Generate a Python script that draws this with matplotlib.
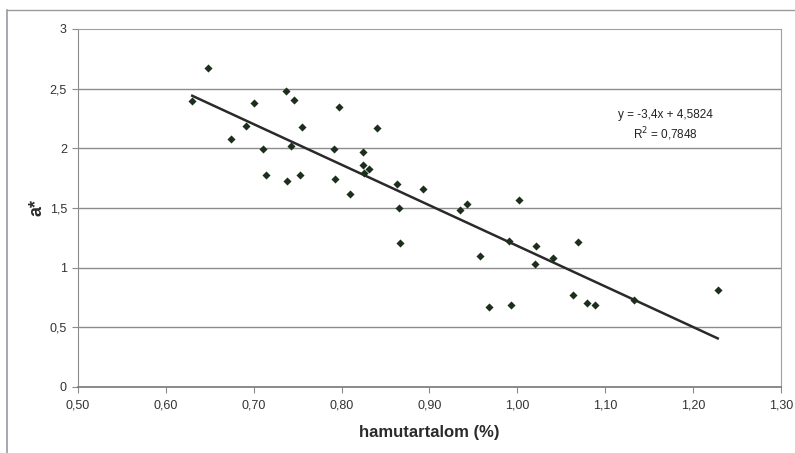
"""
a* vs hamutartalom (%) scatter with linear trendline, Excel-style.
"""

import matplotlib.pyplot as plt
import numpy as np
from matplotlib.lines import Line2D

plt.rcParams["font.family"] = ["Liberation Sans", "DejaVu Sans"]

# ── data ─────────────────────────────────────────────────────────
ash = [
    0.648, 0.630, 0.737, 0.746, 0.700, 0.797, 0.691, 0.755, 0.840, 0.674,
    0.710, 0.742, 0.791, 0.824, 0.824, 0.831, 0.825, 0.714, 0.738, 0.753,
    0.792, 0.809, 0.863, 0.865, 0.893, 0.866, 0.935, 0.943, 1.002, 0.991,
    1.021, 0.958, 1.020, 0.968, 0.993, 1.069, 1.041, 1.063, 1.079, 1.088,
    1.133, 1.228,
]
a_star = [
    2.676, 2.397, 2.483, 2.405, 2.383, 2.349, 2.187, 2.176, 2.170, 2.076,
    1.994, 2.022, 1.994, 1.969, 1.863, 1.824, 1.791, 1.777, 1.729, 1.777,
    1.746, 1.615, 1.699, 1.503, 1.656, 1.209, 1.481, 1.536, 1.567, 1.223,
    1.182, 1.095, 1.033, 0.670, 0.690, 1.213, 1.084, 0.768, 0.707, 0.690,
    0.729, 0.810,
]
slope = -3.4
intercept = 4.5824
r2 = 0.7848

x_ticks = [0.50, 0.60, 0.70, 0.80, 0.90, 1.00, 1.10, 1.20, 1.30]
y_ticks = [0, 0.5, 1, 1.5, 2, 2.5, 3]

TEXT = "#333333"
GRID = "#8c8c8c"
MARK = "#1c2e1c"


def comma(v, digits):
    return f"{v:.{digits}f}".replace(".", ",")


def main() -> None:
    fig = plt.figure(figsize=(7.95, 4.53), dpi=100)
    fig.patch.set_facecolor("white")
    ax = fig.add_axes([0.0981, 0.1457, 0.8843, 0.7903])

    # outer chart frame (only top and left edges visible)
    fig.add_artist(Line2D([0.009, 1.0], [0.978, 0.978], color="#9a9a9a", lw=1.0,
                          transform=fig.transFigure))
    fig.add_artist(Line2D([0.009, 0.009], [0.0, 0.978], color="#9a9aa8", lw=1.2,
                          transform=fig.transFigure))

    ax.set_xlim(0.50, 1.30)
    ax.set_ylim(0, 3)

    # horizontal gridlines
    for yv in y_ticks[1:-1]:
        ax.axhline(yv, color=GRID, lw=1.0, zorder=1)

    # spines
    ax.spines["left"].set_color(GRID)
    ax.spines["bottom"].set_color("#777777")
    ax.spines["bottom"].set_linewidth(1.2)
    for side in ("top", "right"):
        ax.spines[side].set_color("#a0a0a0")
        ax.spines[side].set_linestyle((0, (1, 1)))

    ax.set_xticks(x_ticks)
    ax.set_xticklabels([comma(v, 2) for v in x_ticks])
    ax.set_yticks(y_ticks)
    ax.set_yticklabels([comma(v, 1) if v % 1 else f"{int(v)}" for v in y_ticks])
    ax.tick_params(axis="both", colors=GRID, labelcolor=TEXT, labelsize=9,
                   length=4, direction="out")
    ax.tick_params(axis="x", pad=5)
    ax.tick_params(axis="y", pad=4)

    # points
    ax.scatter(ash, a_star, marker="D", s=17, color=MARK, zorder=4, linewidths=0)

    # trendline over the data range
    xs = np.array([min(ash), max(ash)])
    ax.plot(xs, slope * xs + intercept, color="#2a2a2a", lw=1.8, zorder=3)

    ax.text(1.169, 2.185,
            f"y = {comma(slope, 1)}x + {comma(intercept, 4)}\n"
            f"R$^2$ = {comma(r2, 4)}",
            ha="center", va="center", fontsize=8.5, color="#222222",
            linespacing=1.35)

    ax.set_xlabel("hamutartalom (%)", fontsize=12, fontweight="bold",
                  color="#2a2a2a", labelpad=10)
    ax.set_ylabel("a*", fontsize=13, fontweight="bold", color="#2a2a2a",
                  labelpad=3)

    fig.savefig("out.png", dpi=100, facecolor="white")
    plt.close(fig)


if __name__ == "__main__":
    main()
